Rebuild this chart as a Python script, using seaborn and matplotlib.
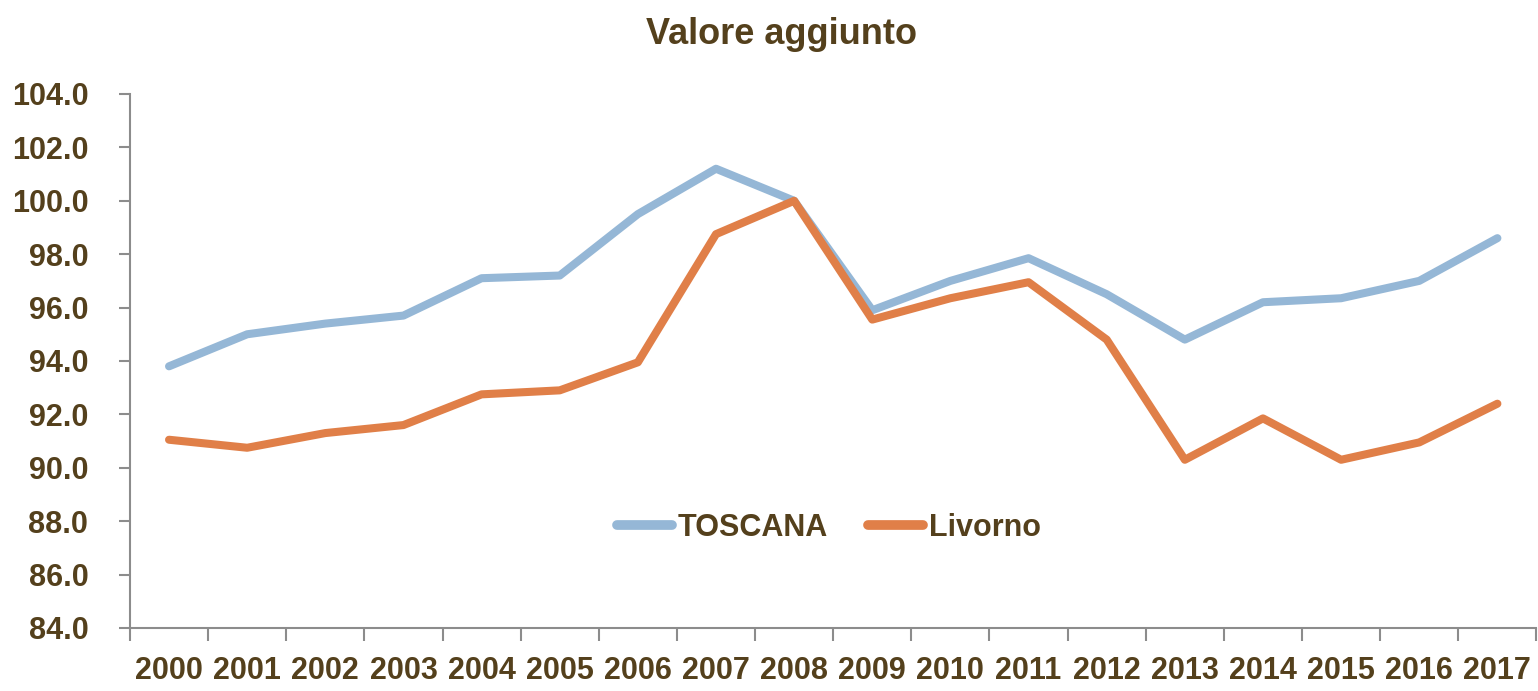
import numpy as np
import pandas as pd
import matplotlib.pyplot as plt
import seaborn as sns

years = [str(y) for y in range(2000, 2018)]
toscana = [93.8, 95.0, 95.4, 95.7, 97.1, 97.2, 99.5, 101.2, 100.0,
           95.9, 97.0, 97.85, 96.5, 94.8, 96.2, 96.35, 97.0, 98.6]
livorno = [91.05, 90.75, 91.3, 91.6, 92.75, 92.9, 93.95, 98.75, 100.0,
           95.55, 96.35, 96.95, 94.8, 90.3, 91.85, 90.3, 90.95, 92.4]
series_names = ["TOSCANA", "Livorno"]

text_col = '#54401c'
grey = '#8c8c8c'
palette = {"TOSCANA": '#95b7d6', "Livorno": '#e07f48'}

sns.set_style('white')
plt.rcParams['font.family'] = ['Liberation Sans', 'DejaVu Sans']
plt.rcParams['font.weight'] = 'bold'

df = pd.DataFrame({
    'anno': np.tile(np.arange(len(years)), 2),
    'valore': toscana + livorno,
    'serie': np.repeat(series_names, len(years)),
})

fig = plt.figure(figsize=(15.38, 6.91), dpi=100)
ax = fig.add_axes([0.0845, 0.0912, 0.9145, 0.7728])

sns.lineplot(data=df, x='anno', y='valore', hue='serie', palette=palette,
             linewidth=5.8, ax=ax, sort=False)
for ln in ax.get_lines():
    ln.set_solid_capstyle('round')
    ln.set_solid_joinstyle('round')

ax.set_xlim(-0.5, len(years) - 0.5)
ax.set_ylim(84, 104)
yt = np.arange(84, 104.1, 2)
ax.set_yticks(yt)
ax.set_yticklabels([f"{v:.1f}" for v in yt])
ax.set_xticks(np.arange(len(years)))
ax.set_xticklabels(years)
ax.set_xticks(np.arange(len(years) + 1) - 0.5, minor=True)

ax.tick_params(axis='x', which='major', bottom=True, length=0, pad=20,
               labelsize=22, labelcolor=text_col)
ax.tick_params(axis='x', which='minor', bottom=True, length=9, width=1.5,
               color=grey, direction='out')
ax.tick_params(axis='y', which='major', left=True, length=8, width=1.5, color=grey,
               direction='out', labelsize=22, labelcolor=text_col, pad=22)

for side in ['top', 'right']:
    ax.spines[side].set_visible(False)
for side in ['left', 'bottom']:
    ax.spines[side].set_color(grey)
    ax.spines[side].set_linewidth(1.5)

ax.set_xlabel('')
ax.set_ylabel('')
fig.suptitle('Valore aggiunto', x=0.508, y=0.975, fontsize=26, fontweight='bold',
             color=text_col)

leg = ax.legend(loc='center', bbox_to_anchor=(0.497, 0.187), ncol=2, frameon=False,
                fontsize=22, handlelength=1.8, columnspacing=1.3, handletextpad=0.2)
for t in leg.get_texts():
    t.set_color(text_col)
for h in leg.legend_handles:
    h.set_linewidth(7)
    h.set_solid_capstyle('round')

fig.savefig('out.png', dpi=100)
